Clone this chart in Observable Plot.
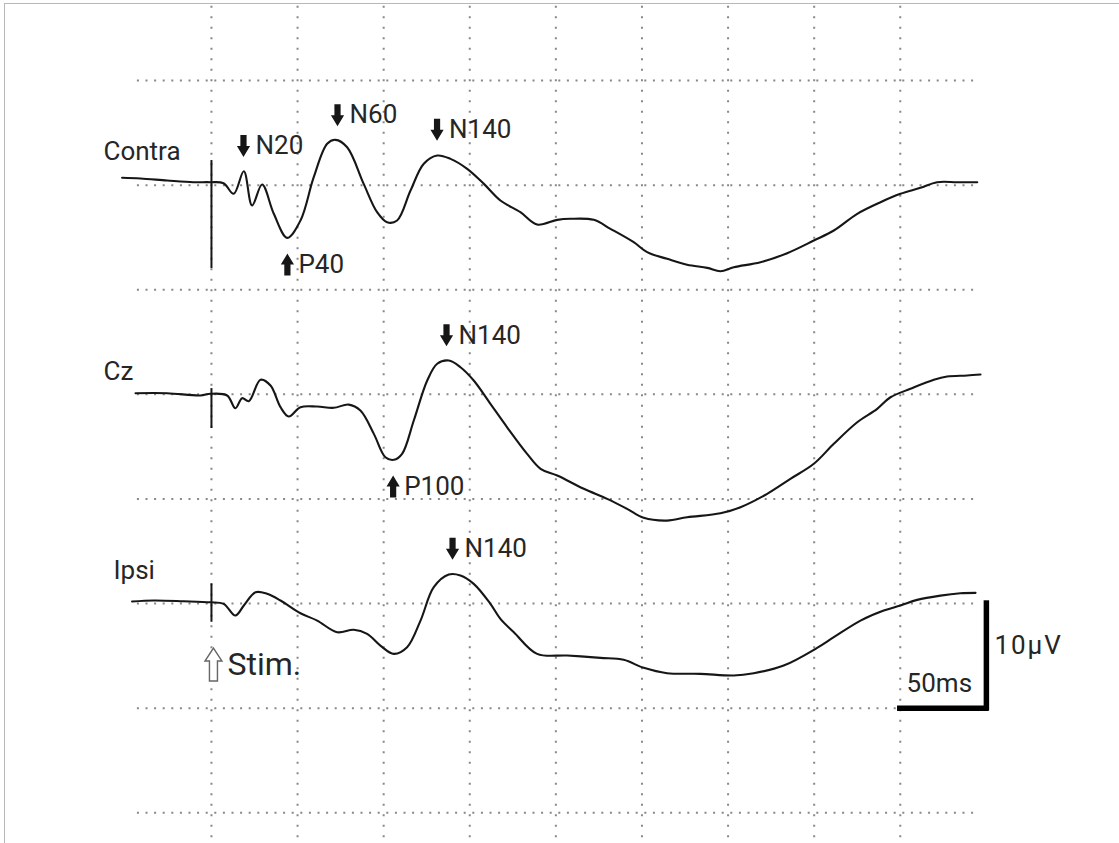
<!DOCTYPE html>
<html>
<head>
<meta charset="utf-8">
<script src="https://cdn.jsdelivr.net/npm/d3@7"></script>
<script src="https://cdn.jsdelivr.net/npm/@observablehq/plot@0.6"></script>
<style>
  html, body { margin: 0; padding: 0; background: #fff; }
  #wrap { position: relative; width: 1119px; height: 843px; }
  #wrap svg { display: block; }
  #edge { position: absolute; left: 4px; top: 3px; right: 0; bottom: 0;
          border-top: 1.5px solid #b8b8b8; border-left: 1.5px solid #b8b8b8; pointer-events: none; }
</style>
</head>
<body>
<div id="wrap"><div id="edge"></div></div>
<script>
// Somatosensory evoked potentials, negative up; time in ms from stimulus, amplitude in µV.
const channels = ["Contra", "Cz", "Ipsi"];
const channelOffsets = [60, 40, 20]; // stacking baseline of each trace (µV units)

const contraMs = [-51.9,-41.2,-25.7,-10.5,-0.6,7.0,12.9,18.8,23.6,29.4,36.2,44.0,51.7,59.4,67.2,72.0,78.8,88.4,96.2,102.0,107.8,115.6,123.3,131.1,138.8,148.5,158.2,167.8,179.4,189.1,200.8,208.5,222.0,231.7,245.2,253.0,264.6,276.2,287.9,295.6,303.3,318.8,334.3,349.8,361.4,375.0,388.5,400.1,411.7,421.4,433.0,444.7];
const contraUv = [-0.70,-0.63,-0.44,-0.28,-0.28,-0.18,0.83,-1.33,1.95,-0.06,2.74,5.04,3.38,-0.76,-3.95,-4.33,-3.62,-0.12,2.59,3.55,3.38,0.52,-2.04,-2.83,-2.51,-1.56,-0.12,1.47,2.59,3.77,3.32,3.22,3.32,4.18,5.46,6.41,7.05,7.62,7.91,8.23,7.85,7.37,6.51,5.30,4.34,2.74,1.63,0.83,0.26,-0.28,-0.28,-0.28];

const czMs = [-44.1,-25.7,-6.4,-0.6,9.1,13.9,17.8,21.7,28.5,34.3,40.1,44.9,51.7,61.4,71.0,79.7,86.5,94.3,101.0,105.9,110.7,117.5,125.3,131.1,137.8,144.6,152.3,162.0,171.7,183.3,191.1,200.8,216.2,229.8,241.4,251.0,264.6,276.2,295.6,307.2,322.7,336.2,349.8,361.4,375.0,386.6,394.3,405.9,419.5,427.2,438.8,446.6];
const czUv = [-0.11,-0.11,0.11,-0.05,0.11,1.33,0.37,0.66,-1.39,-0.84,1.23,2.12,1.23,1.17,1.29,0.98,1.55,3.78,6.01,6.26,5.69,2.50,-1.32,-2.92,-3.23,-2.59,-1.32,0.91,3.15,5.69,7.12,7.76,9.03,9.99,10.95,11.81,12.07,11.75,11.37,10.79,9.51,8.08,6.64,4.73,2.67,1.39,0.28,-0.53,-1.39,-1.70,-1.80,-1.89];

const ipsiMs = [-46.1,-33.5,-16.1,-0.6,7.1,13.9,18.8,25.6,32.3,40.1,51.7,61.4,73.0,82.6,90.4,98.1,105.9,113.6,121.4,129.1,137.8,144.6,152.3,162.0,167.8,175.6,189.1,206.6,225.9,239.4,251.0,264.6,283.9,303.3,314.9,332.3,351.7,361.4,376.9,390.4,400.1,409.8,423.3,434.9,443.7];
const ipsiUv = [-0.19,-0.29,-0.22,-0.12,0.03,1.15,0.19,-1.08,-0.93,-0.29,0.93,1.63,2.74,2.51,2.90,4.02,4.81,4.18,1.63,-1.56,-2.77,-2.68,-1.88,0.03,1.46,2.74,4.81,4.97,5.19,5.38,6.15,6.66,6.72,6.88,6.66,5.93,4.24,3.22,1.63,0.67,0.19,-0.35,-0.76,-0.98,-1.02];

// Stimulus artifact excursions at t = 0 (µV), per channel
const artifactTopUv = [-2.35, -0.55, -1.88];
const artifactBottomUv = [7.97, 3.27, 1.79];

// Labelled components
const componentNames = ["N20", "P40", "N60", "N140", "P100", "N140", "N140"];
const componentChannels = ["Contra", "Contra", "Contra", "Contra", "Cz", "Cz", "Ipsi"];
const componentLatencyMs = [18.6, 44.1, 73.2, 131, 105.5, 136.5, 140];

// Grid and calibration
const gridMs = [0, 50, 100, 150, 200, 250, 300, 350, 400];
const gridUv = [0, 10, 20, 30, 40, 50, 60, 70];
const scaleBarMs = 50;
const scaleBarUv = 10;
const scaleBarLabels = ["10μV", "50ms"];

// ---- build tables ----
const series = {Contra: [contraMs, contraUv], Cz: [czMs, czUv], Ipsi: [ipsiMs, ipsiUv]};
const offsetOf = Object.fromEntries(channels.map((c, i) => [c, channelOffsets[i]]));

const traceRows = channels.flatMap(c => {
  const [ms, uv] = series[c];
  return ms.map((t, i) => ({channel: c, t, uv: uv[i], y: offsetOf[c] - uv[i]}));
});

const artifactRows = channels.map((c, i) => ({
  channel: c, t: 0, y1: offsetOf[c] - artifactTopUv[i], y2: offsetOf[c] - artifactBottomUv[i]
}));

function valueAt(c, t) {
  const [ms, uv] = series[c];
  const j = d3.bisectLeft(ms, t);
  if (j <= 0) return uv[0];
  if (j >= ms.length) return uv[uv.length - 1];
  const f = (t - ms[j - 1]) / (ms[j] - ms[j - 1]);
  return uv[j - 1] + f * (uv[j] - uv[j - 1]);
}

const peaks = componentNames.map((name, i) => {
  const c = componentChannels[i], t = componentLatencyMs[i];
  return {name, channel: c, t, y: offsetOf[c] - valueAt(c, t), neg: name[0] === "N"};
});
const negPeaks = peaks.filter(d => d.neg);
const posPeaks = peaks.filter(d => !d.neg);

const channelLabels = channels.map(c => ({channel: c, t: -62.7, y: offsetOf[c]}));

// Solid arrow glyphs and the hollow stimulus arrow
function poly(ctx, pts) {
  ctx.moveTo(pts[0][0], pts[0][1]);
  for (const p of pts.slice(1)) ctx.lineTo(p[0], p[1]);
  ctx.closePath();
}
const arrowDown = {draw(ctx) { poly(ctx, [[-3.1,-11],[3.1,-11],[3.1,0],[6.6,0],[0,11],[-6.6,0],[-3.1,0]]); }};
const arrowUp = {draw(ctx) { poly(ctx, [[-3.1,11],[3.1,11],[3.1,0],[6.6,0],[0,-11],[-6.6,0],[-3.1,0]]); }};
const hollowUp = {draw(ctx) { poly(ctx, [[0,-16.5],[8.5,-3.5],[4,-3.5],[4,16.5],[-4,16.5],[-4,-3.5],[-8.5,-3.5]]); }};

const ink = "#161616";
const textInk = "#262626";
const gridInk = "#888";
const font = "Roboto, 'Open Sans', sans-serif";

const chart = Plot.plot({
  width: 1119,
  height: 843,
  margin: 0,
  x: {domain: [-122.5, 527.3], axis: null},
  y: {domain: [-2.94, 77.65], axis: null},
  style: {fontFamily: font, background: "transparent"},
  marks: [
    // dotted grid
    Plot.ruleX(gridMs, {x: d => d, y1: 77.1, y2: -3, stroke: gridInk, strokeWidth: 2, strokeDasharray: "2 8.5"}),
    Plot.ruleY(gridUv, {y: d => d, x1: -43, x2: 446, stroke: gridInk, strokeWidth: 2, strokeDasharray: "2 6.6"}),
    // stimulus artifacts
    Plot.ruleX(artifactRows, {x: "t", y1: "y1", y2: "y2", stroke: ink, strokeWidth: 2}),
    // traces
    Plot.line(traceRows, {x: "t", y: "y", z: "channel", stroke: ink, strokeWidth: 2.1, curve: "catmull-rom"}),
    // channel names
    Plot.text(channelLabels.filter(d => d.channel === "Contra"), {x: "t", y: "y", text: "channel", dy: -33, textAnchor: "start", fontSize: 26, fill: textInk}),
    Plot.text(channelLabels.filter(d => d.channel === "Cz"), {x: "t", y: "y", text: "channel", dy: -23, textAnchor: "start", fontSize: 26, fill: textInk}),
    Plot.text(channelLabels.filter(d => d.channel === "Ipsi"), {x: "t", y: "y", text: "channel", dx: 10, dy: -33, textAnchor: "start", fontSize: 26, fill: textInk}),
    // component markers
    Plot.dot(negPeaks, {x: "t", y: "y", dy: -26, r: 6, symbol: arrowDown, fill: ink, stroke: "none"}),
    Plot.text(negPeaks, {x: "t", y: "y", text: "name", dx: 12, dy: -26, textAnchor: "start", fontSize: 26, fill: textInk}),
    Plot.dot(posPeaks, {x: "t", y: "y", dy: 27, r: 6, symbol: arrowUp, fill: ink, stroke: "none"}),
    Plot.text(posPeaks, {x: "t", y: "y", text: "name", dx: 11, dy: 27, textAnchor: "start", fontSize: 26, fill: textInk}),
    // stimulus marker
    Plot.dot([{t: 0, y: offsetOf.Ipsi}], {x: "t", y: "y", dx: 2, dy: 61, r: 8, symbol: hollowUp, fill: "white", stroke: "#666", strokeWidth: 1.4}),
    Plot.text([{t: 0, y: offsetOf.Ipsi, label: "Stim."}], {x: "t", y: "y", text: "label", dx: 16, dy: 61, textAnchor: "start", fontSize: 32, fill: textInk}),
    // calibration bar
    Plot.ruleX([{t: 400 + scaleBarMs, y1: 10, y2: 10 + scaleBarUv}], {x: "t", y1: "y1", y2: "y2", stroke: "#000", strokeWidth: 5.5, strokeLinecap: "square"}),
    Plot.ruleY([{y: 10, x1: 400, x2: 400 + scaleBarMs}], {y: "y", x1: "x1", x2: "x2", stroke: "#000", strokeWidth: 5.5, strokeLinecap: "square"}),
    Plot.text([{t: 400 + scaleBarMs, y: 10 + scaleBarUv / 2, label: scaleBarLabels[0]}], {x: "t", y: "y", text: "label", dx: 8, dy: -10, textAnchor: "start", fontSize: 26, fill: textInk}),
    Plot.text([{t: 400 + scaleBarMs / 2, y: 10, label: scaleBarLabels[1]}], {x: "t", y: "y", text: "label", dx: -4, dy: -24, textAnchor: "middle", fontSize: 26, fill: textInk})
  ]
});

d3.select(chart).selectAll("text").filter(function() { return this.textContent === scaleBarLabels[0]; })
  .attr("letter-spacing", "2px");

document.getElementById("wrap").prepend(chart);
</script>
</body>
</html>
